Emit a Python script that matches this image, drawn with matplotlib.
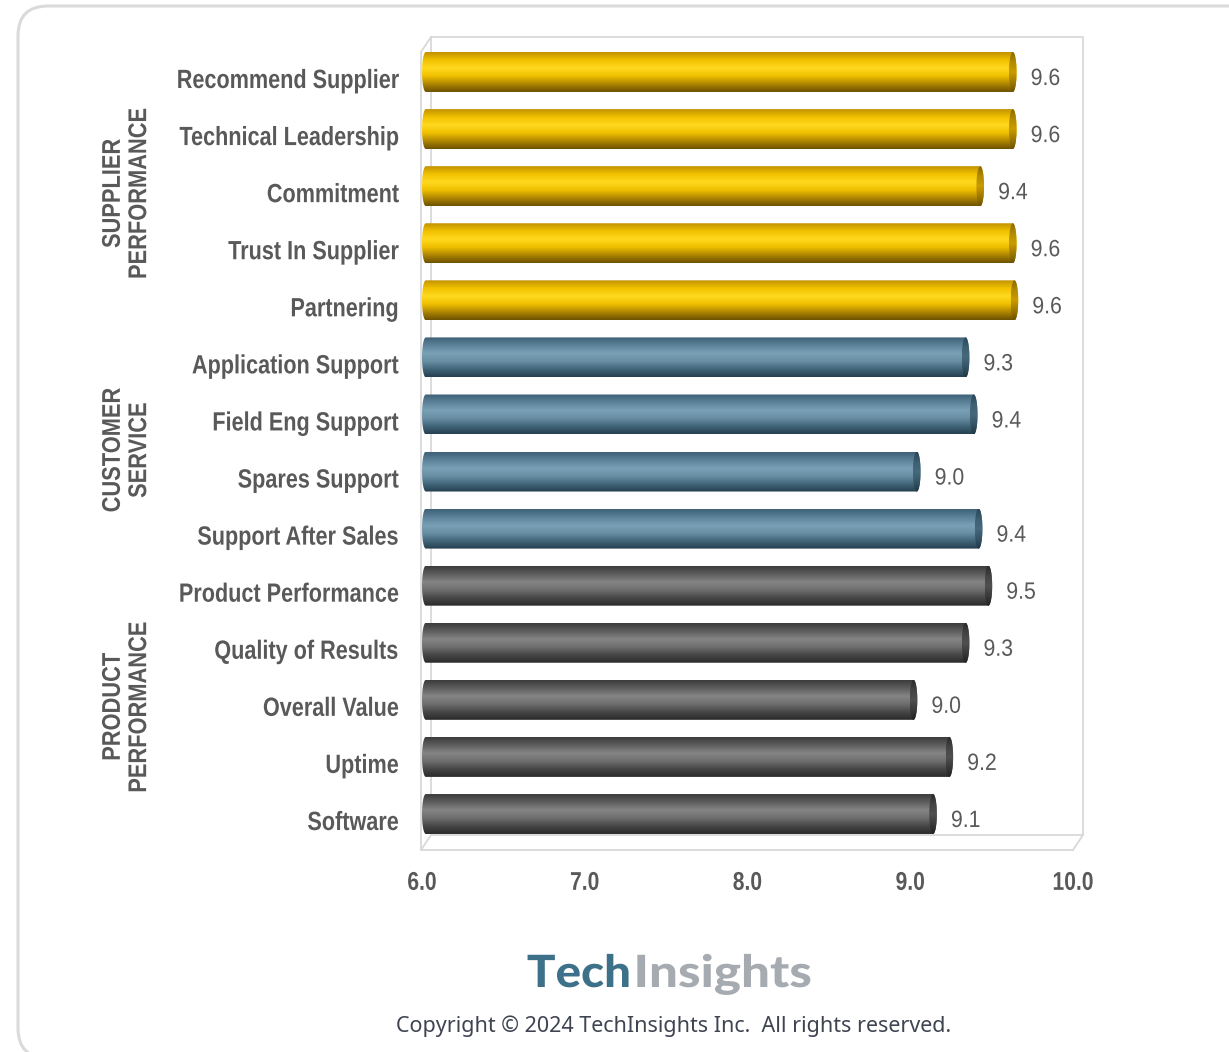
import numpy as np
import matplotlib
matplotlib.use('Agg')
import matplotlib.pyplot as plt
from matplotlib.colors import LinearSegmentedColormap
from matplotlib.path import Path
from matplotlib.patches import PathPatch, FancyBboxPatch
from matplotlib.lines import Line2D
from matplotlib.patheffects import AbstractPathEffect
import matplotlib.transforms as mtransforms

# ---------------- data ----------------
categories = ["Recommend Supplier", "Technical Leadership", "Commitment",
              "Trust In Supplier", "Partnering",
              "Application Support", "Field Eng Support", "Spares Support",
              "Support After Sales",
              "Product Performance", "Quality of Results", "Overall Value",
              "Uptime", "Software"]
scores = [9.63, 9.63, 9.43, 9.63, 9.64,
          9.34, 9.39, 9.04, 9.42,
          9.48, 9.34, 9.02, 9.24, 9.14]
groups = ["SUPPLIER\nPERFORMANCE", "CUSTOMER\nSERVICE", "PRODUCT\nPERFORMANCE"]
group_sizes = [5, 4, 5]
xticks = [6.0, 7.0, 8.0, 9.0, 10.0]
xmin, xmax = 6.0, 10.0

# ---------------- styles ----------------
body_profiles = [
    ['#c29200', '#f2c200', '#ffd91f', '#f0c000', '#b08600', '#6e5300'],   # gold
    ['#3e6277', '#5b8299', '#7aa0b6', '#6a90a6', '#42667a', '#26404f'],   # blue
    ['#3c3c3c', '#5e5e5e', '#858585', '#6e6e6e', '#474747', '#2b2b2b'],   # gray
]
cap_profiles = [
    ['#8a6800', '#b38a00', '#c99c00', '#a07a00', '#6e5300'],
    ['#2a4656', '#3c5f72', '#46697d', '#355465', '#213845'],
    ['#2a2a2a', '#444444', '#505050', '#3a3a3a', '#222222'],
]
TXT = '#595959'
SANS = ['Liberation Sans', 'DejaVu Sans']
W, H = 1229, 1052


class Squeeze(AbstractPathEffect):
    """Scale glyphs horizontally (emulates a narrow / wide typeface)."""
    def __init__(self, sx=0.82, anchor='center'):
        super().__init__()
        self.sx = sx
        self.anchor = anchor

    def draw_path(self, renderer, gc, tpath, affine, rgbFace=None):
        ext = tpath.get_extents()
        if self.anchor == 'right':
            px = ext.x1
        elif self.anchor == 'left':
            px = ext.x0
        else:
            px = 0.5 * (ext.x0 + ext.x1)
        sq = mtransforms.Affine2D().translate(-px, 0).scale(self.sx, 1).translate(px, 0)
        renderer.draw_path(gc, tpath, sq + affine, rgbFace)


fig = plt.figure(figsize=(W / 100, H / 100), dpi=100)
fig.patch.set_facecolor('white')

# axes position in pixels
ax_l, ax_r, ax_t, ax_b = 422, 1073, 37, 850
ax = fig.add_axes([ax_l / W, 1 - ax_b / H, (ax_r - ax_l) / W, (ax_b - ax_t) / H])
ax.set_facecolor('none')
ax.set_zorder(2)

n = len(categories)
ypos = np.arange(n)[::-1].astype(float)     # top row highest
px_per_row = 57.08
ylo = -(36 / px_per_row)
yhi = (n - 1) + 35 / px_per_row

# outer rounded frame
frame = FancyBboxPatch((18 / 100, (H - 1058) / 100), (1300 - 18) / 100, (1058 - 6) / 100,
                       boxstyle="round,pad=0,rounding_size=0.3",
                       transform=fig.dpi_scale_trans, facecolor='none',
                       edgecolor='#dadada', linewidth=2.2, zorder=0)
fig.add_artist(frame)


def pline(xs, ys):
    fig.add_artist(Line2D([x / 100 for x in xs], [(H - y) / 100 for y in ys],
                          transform=fig.dpi_scale_trans, color='#d9d9d9', lw=1.3,
                          zorder=0.5))

# 3D wall lines (drawn below the axes)
pline([431, 1083, 1083], [37, 37, 835])
pline([431, 431], [37, 835])
pline([431, 1083], [835, 835])
pline([421, 421, 1073], [52, 850, 850])
pline([421, 431], [52, 37])
pline([421, 431], [850, 835])
pline([1073, 1083], [850, 835])

bar_h = 0.70
b = bar_h / 2
a = 3.8 / ((ax_r - ax_l) / (xmax - xmin))   # cap semi-axis in data units

color_idx = []
for gi, s in enumerate(group_sizes):
    color_idx += [gi] * s

t = np.linspace(0, np.pi, 40)
for i, (val, yc) in enumerate(zip(scores, ypos)):
    ci = color_idx[i]
    cmap = LinearSegmentedColormap.from_list('b%d' % ci, body_profiles[ci])
    ccap = LinearSegmentedColormap.from_list('c%d' % ci, cap_profiles[ci])
    grad = cmap(np.linspace(0, 1, 80))[:, None, :3]
    gcap = ccap(np.linspace(0, 1, 80))[:, None, :3]
    x0 = xmin + a
    left = np.column_stack([x0 - a * np.sin(t), yc + b * np.cos(t)])
    right = np.column_stack([val + a * np.sin(t), yc - b * np.cos(t)])
    verts = np.vstack([left, right, left[:1]])
    codes = [Path.MOVETO] + [Path.LINETO] * (len(verts) - 2) + [Path.CLOSEPOLY]
    body = PathPatch(Path(verts, codes), facecolor='none', edgecolor='none',
                     transform=ax.transData)
    ax.add_patch(body)
    im = ax.imshow(grad, extent=(xmin, val + a, yc - b, yc + b), origin='upper',
                   aspect='auto', interpolation='bilinear', zorder=2)
    im.set_clip_path(body)
    tt = np.linspace(0, 2 * np.pi, 80)
    ev = np.column_stack([val + a * np.cos(tt), yc + b * np.sin(tt)])
    ecodes = [Path.MOVETO] + [Path.LINETO] * (len(ev) - 2) + [Path.CLOSEPOLY]
    cap = PathPatch(Path(ev, ecodes), facecolor='none', edgecolor='none',
                    transform=ax.transData)
    ax.add_patch(cap)
    imc = ax.imshow(gcap, extent=(val - a, val + a, yc - b, yc + b), origin='upper',
                    aspect='auto', interpolation='bilinear', zorder=3)
    imc.set_clip_path(cap)
    ax.annotate(f"{val:.1f}", xy=(val + a, yc), xytext=(14, -7),
                textcoords='offset pixels', ha='left', va='center',
                fontsize=17, color=TXT, family=SANS, zorder=5,
                path_effects=[Squeeze(0.9, 'left')])

ax.set_xlim(xmin, xmax)
ax.set_ylim(ylo, yhi)
ax.set_yticks([])
ax.set_xticks(xticks)
ax.set_xticklabels([f"{v:.1f}" for v in xticks], fontsize=18.5, fontweight='bold',
                   color=TXT, family=SANS)
for tl in ax.get_xticklabels():
    tl.set_path_effects([Squeeze(0.82, 'center')])
ax.tick_params(axis='x', length=0, pad=15)
for sp in ax.spines.values():
    sp.set_visible(False)

# category labels
lab_tr = mtransforms.offset_copy(ax.get_yaxis_transform(), fig=fig, x=-23, y=-9, units='dots')
for name, yc in zip(categories, ypos):
    ax.text(0, yc, name, transform=lab_tr, ha='right', va='center',
            fontsize=19, fontweight='bold', color=TXT, family=SANS, clip_on=False,
            path_effects=[Squeeze(0.82, 'right')])

# group labels
grp_tr = mtransforms.offset_copy(
    mtransforms.blended_transform_factory(fig.transFigure, ax.transData),
    fig=fig, x=0, y=-7, units='dots')
start = 0
for gname, s in zip(groups, group_sizes):
    yc = ypos[start:start + s].mean()
    fig.text(126 / W, yc, gname, transform=grp_tr, rotation=90, ha='center',
             va='center', fontsize=18.5, fontweight='bold', color=TXT, family=SANS,
             linespacing=1.12, multialignment='center',
             path_effects=[Squeeze(0.85, 'center')])
    start += s

# logo
fig.text(631 / W, 1 - 987 / H, "Tech", ha='right', va='baseline', fontsize=32,
         fontweight='black', color='#3d7089', family=['Lato', 'DejaVu Sans'],
         path_effects=[Squeeze(1.07, 'right')])
fig.text(634 / W, 1 - 987 / H, "Insights", ha='left', va='baseline', fontsize=32,
         fontweight='black', color='#a5abb0', family=['Lato', 'DejaVu Sans'],
         path_effects=[Squeeze(1.15, 'left')])
fig.text(674 / W, 1 - 1032 / H, "Copyright \u00a9 2024 TechInsights Inc.  All rights reserved.",
         ha='center', va='baseline', fontsize=15.5, color='#3f4451',
         family=['Noto Sans', 'DejaVu Sans'])

fig.savefig('out.png', dpi=100, facecolor='white')
